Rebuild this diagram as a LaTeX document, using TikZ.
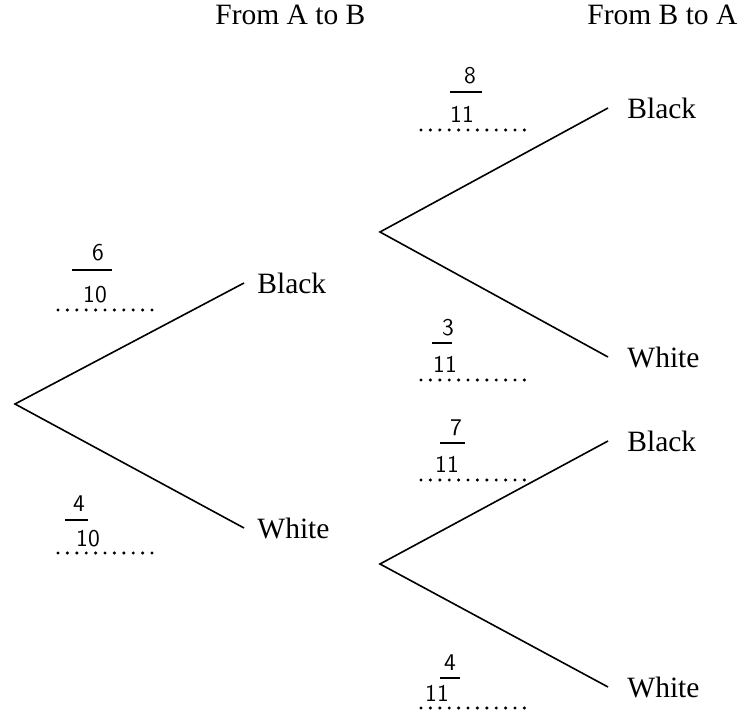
\documentclass[tikz,border=0pt]{standalone}
\usepackage{fontspec}
\setmainfont{Liberation Serif}
\begin{document}
\begin{tikzpicture}[x=0.5pt,y=-0.5pt,
  lbl/.style={font=\fontsize{14.75}{17}\selectfont, inner ysep=0pt},
  lvlone/.style={lbl, anchor=west, inner xsep=6.5pt},
  lvltwo/.style={lbl, anchor=west, inner xsep=9.5pt},
  head/.style={font=\fontsize{14.75}{17}\selectfont, anchor=base west, inner sep=0pt},
  branch/.style={line width=0.8pt},
  hand/.style={font=\sffamily\fontsize{12}{14}\selectfont, inner sep=0pt, anchor=base},
  dotrow/.style={line width=1.7pt, line cap=round, dash pattern=on 0pt off 4.7pt},
  fracbar/.style={line width=0.7pt}]
\useasboundingbox (0,0) rectangle (744,715);

% headings
\node[head] (hab) at (215,25) {From A to B};
\node[head] (hba) at (587,25) {From B to A};

% tree
\coordinate (root) at (15,404);
\node[lvlone] (b1) at (244,283) {Black};
\node[lvlone] (w1) at (244,528) {White};
\coordinate (fu) at (380,232);
\coordinate (fl) at (380,564);
\node[lvltwo] (b2) at (608,108) {Black};
\node[lvltwo] (w2) at (608,357) {White};
\node[lvltwo] (b3) at (608,441) {Black};
\node[lvltwo] (w3) at (608,687) {White};

\draw[branch] (b1.west) -- (root) -- (w1.west);
\draw[branch] (b2.west) -- (fu) -- (w2.west);
\draw[branch] (b3.west) -- (fl) -- (w3.west);

% 6/10
\node[hand] (n1) at (98,261) {6};
\draw[fracbar] (72,270) -- (112,270);
\node[hand] (m1) at (95,303) {10};
\draw[dotrow] (58,310) -- (160,310);

% 4/10
\node[hand] (n2) at (79,512) {4};
\draw[fracbar] (65,520) -- (88,520);
\node[hand] (m2) at (88,546) {10};
\draw[dotrow] (58,553) -- (158,553);

% 8/11
\node[hand] (n3) at (470,84) {8};
\draw[fracbar] (450,92) -- (482,92);
\node[hand] (m3) at (462,123) {11};
\draw[dotrow] (421,130) -- (525,130);

% 3/11
\node[hand] (n4) at (448,336) {3};
\draw[fracbar] (432,343) -- (452,343);
\node[hand] (m4) at (445,373) {11};
\draw[dotrow] (421,380) -- (525,380);

% 7/11
\node[hand] (n5) at (456,436) {7};
\draw[fracbar] (440,443) -- (465,443);
\node[hand] (m5) at (447,473) {11};
\draw[dotrow] (421,480) -- (525,480);

% 4/11
\node[hand] (n6) at (450,670) {4};
\draw[fracbar] (440,678) -- (460,678);
\node[hand] (m6) at (437,701) {11};
\draw[dotrow] (421,708) -- (525,708);
\end{tikzpicture}
\end{document}
